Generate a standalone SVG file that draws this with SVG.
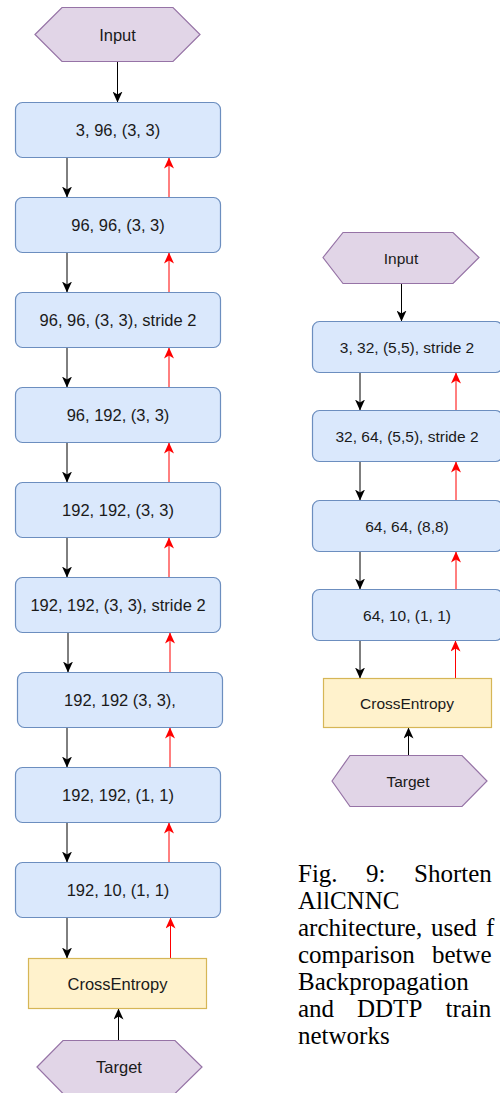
<svg xmlns="http://www.w3.org/2000/svg" width="500" height="1093" viewBox="0 0 500 1093">
<style>
.hex{fill:#E1D5E7;stroke:#9673A6;stroke-width:1.2}
.box{fill:#DAE8FC;stroke:#6C8EBF;stroke-width:1.2}
.ce{fill:#FFF2CC;stroke:#D6B656;stroke-width:1.2}
.tl{font-family:"Liberation Sans",Arial,sans-serif;font-size:16.5px;fill:#1a1a1a;text-anchor:middle;dominant-baseline:central}
.tr{font-family:"Liberation Sans",Arial,sans-serif;font-size:15.5px;fill:#1a1a1a;text-anchor:middle;dominant-baseline:central}
.fw{stroke:#000;stroke-width:1;fill:none;marker-end:url(#ab)}
.bw{stroke:#FF0000;stroke-width:1;fill:none;marker-end:url(#ar)}
.cap{font-family:"Liberation Serif","Times New Roman",serif;font-size:25px;fill:#000}
</style>
<defs>
<marker id="ab" viewBox="0 0 11 10" refX="11" refY="5" markerWidth="11" markerHeight="10" markerUnits="userSpaceOnUse" orient="auto"><path d="M0,0 L11,5 L0,10 L3,5 Z" fill="#000"/></marker>
<marker id="ar" viewBox="0 0 11 10" refX="11" refY="5" markerWidth="11" markerHeight="10" markerUnits="userSpaceOnUse" orient="auto"><path d="M0,0 L11,5 L0,10 L3,5 Z" fill="#FF0000"/></marker>
</defs>

<g id="connectors">
<line class="fw" x1="117.5" y1="61.5" x2="117.5" y2="102.5"/>
<line class="fw" x1="67" y1="157.5" x2="67" y2="197.5"/>
<line class="bw" x1="169" y1="197.5" x2="169" y2="157.5"/>
<line class="fw" x1="67" y1="252.5" x2="67" y2="292.5"/>
<line class="bw" x1="169" y1="292.5" x2="169" y2="252.5"/>
<line class="fw" x1="67" y1="347.5" x2="67" y2="387.5"/>
<line class="bw" x1="169" y1="387.5" x2="169" y2="347.5"/>
<line class="fw" x1="67" y1="442.5" x2="67" y2="482.5"/>
<line class="bw" x1="169" y1="482.5" x2="169" y2="442.5"/>
<line class="fw" x1="67" y1="537.5" x2="67" y2="577.5"/>
<line class="bw" x1="169" y1="577.5" x2="169" y2="537.5"/>
<line class="fw" x1="68" y1="632.5" x2="68" y2="672.5"/>
<line class="bw" x1="170" y1="672.5" x2="170" y2="632.5"/>
<line class="fw" x1="67" y1="727.5" x2="67" y2="767.5"/>
<line class="bw" x1="170" y1="767.5" x2="170" y2="727.5"/>
<line class="fw" x1="67" y1="822.5" x2="67" y2="862.5"/>
<line class="bw" x1="169" y1="862.5" x2="169" y2="822.5"/>
<line class="fw" x1="67" y1="917.5" x2="67" y2="958.5"/>
<line class="bw" x1="170.5" y1="958.5" x2="170.5" y2="917.5"/>
<line class="fw" x1="118.5" y1="1040.5" x2="118.5" y2="1008.5"/>

<line class="fw" x1="401.5" y1="283.5" x2="401.5" y2="321.5"/>
<line class="fw" x1="360" y1="372.5" x2="360" y2="410.5"/>
<line class="bw" x1="456" y1="410.5" x2="456" y2="372.5"/>
<line class="fw" x1="360" y1="461.5" x2="360" y2="500.5"/>
<line class="bw" x1="456" y1="500.5" x2="456" y2="461.5"/>
<line class="fw" x1="360" y1="551.5" x2="360" y2="589.5"/>
<line class="bw" x1="456" y1="589.5" x2="456" y2="551.5"/>
<line class="fw" x1="360" y1="640.5" x2="360" y2="678.5"/>
<line class="bw" x1="455.5" y1="678.5" x2="455.5" y2="640.5"/>
<line class="fw" x1="408.5" y1="755.5" x2="408.5" y2="727.5"/>
</g>

<g id="l-input"><polygon class="hex" points="35,34.5 62,7.5 173,7.5 200,34.5 173,61.5 62,61.5"/><text class="tl" x="117.5" y="34.5">Input</text></g>
<g id="l-b1"><rect class="box" x="15.5" y="102.5" width="205" height="55" rx="7"/><text class="tl" x="118" y="130">3, 96, (3, 3)</text></g>
<g id="l-b2"><rect class="box" x="15.5" y="197.5" width="205" height="55" rx="7"/><text class="tl" x="118" y="225">96, 96, (3, 3)</text></g>
<g id="l-b3"><rect class="box" x="15.5" y="292.5" width="205" height="55" rx="7"/><text class="tl" x="118" y="320">96, 96, (3, 3), stride 2</text></g>
<g id="l-b4"><rect class="box" x="15.5" y="387.5" width="205" height="55" rx="7"/><text class="tl" x="118" y="415">96, 192, (3, 3)</text></g>
<g id="l-b5"><rect class="box" x="15.5" y="482.5" width="205" height="55" rx="7"/><text class="tl" x="118" y="510">192, 192, (3, 3)</text></g>
<g id="l-b6"><rect class="box" x="15.5" y="577.5" width="205" height="55" rx="7"/><text class="tl" x="118" y="605">192, 192, (3, 3), stride 2</text></g>
<g id="l-b7"><rect class="box" x="17.5" y="672.5" width="205" height="55" rx="7"/><text class="tl" x="120" y="700">192, 192 (3, 3),</text></g>
<g id="l-b8"><rect class="box" x="15.5" y="767.5" width="205" height="55" rx="7"/><text class="tl" x="118" y="795">192, 192, (1, 1)</text></g>
<g id="l-b9"><rect class="box" x="15.5" y="862.5" width="205" height="55" rx="7"/><text class="tl" x="118" y="890">192, 10, (1, 1)</text></g>
<g id="l-ce"><rect class="ce" x="28.5" y="958.5" width="178" height="50"/><text class="tl" x="117.5" y="983.5">CrossEntropy</text></g>
<g id="l-target"><polygon class="hex" points="37,1067 63,1040.5 175,1040.5 202,1067 175,1093.5 63,1093.5"/><text class="tl" x="119" y="1067">Target</text></g>

<g id="r-input"><polygon class="hex" points="323,257.5 343,232.5 453,232.5 479,257.5 453,283.5 343,283.5"/><text class="tr" x="401" y="258">Input</text></g>
<g id="r-b1"><rect class="box" x="312.5" y="321.5" width="190" height="51" rx="7"/><text class="tr" x="407" y="347">3, 32, (5,5), stride 2</text></g>
<g id="r-b2"><rect class="box" x="312.5" y="410.5" width="190" height="51" rx="7"/><text class="tr" x="407" y="436">32, 64, (5,5), stride 2</text></g>
<g id="r-b3"><rect class="box" x="312.5" y="500.5" width="190" height="51" rx="7"/><text class="tr" x="407" y="526">64, 64, (8,8)</text></g>
<g id="r-b4"><rect class="box" x="312.5" y="589.5" width="190" height="51" rx="7"/><text class="tr" x="407" y="615">64, 10, (1, 1)</text></g>
<g id="r-ce"><rect class="ce" x="323.5" y="678.5" width="168" height="49"/><text class="tr" x="407" y="703">CrossEntropy</text></g>
<g id="r-target"><polygon class="hex" points="332,781 350,755.5 462,755.5 487,781 462,806.5 350,806.5"/><text class="tr" x="408" y="781">Target</text></g>

<g id="caption" class="cap">
<text x="298" y="882">Fig.</text><text x="366" y="882">9:</text><text x="414" y="882">Shorten</text>
<text x="298" y="909">AllCNNC</text>
<text x="298" y="936">architecture,</text><text x="431" y="936">used</text><text x="486" y="936">f</text>
<text x="298" y="963">comparison</text><text x="432" y="963">betwe</text>
<text x="298" y="990">Backpropagation</text>
<text x="298" y="1017">and</text><text x="357" y="1017">DDTP</text><text x="445.5" y="1017">train</text>
<text x="298" y="1044">networks</text>
</g>
</svg>
